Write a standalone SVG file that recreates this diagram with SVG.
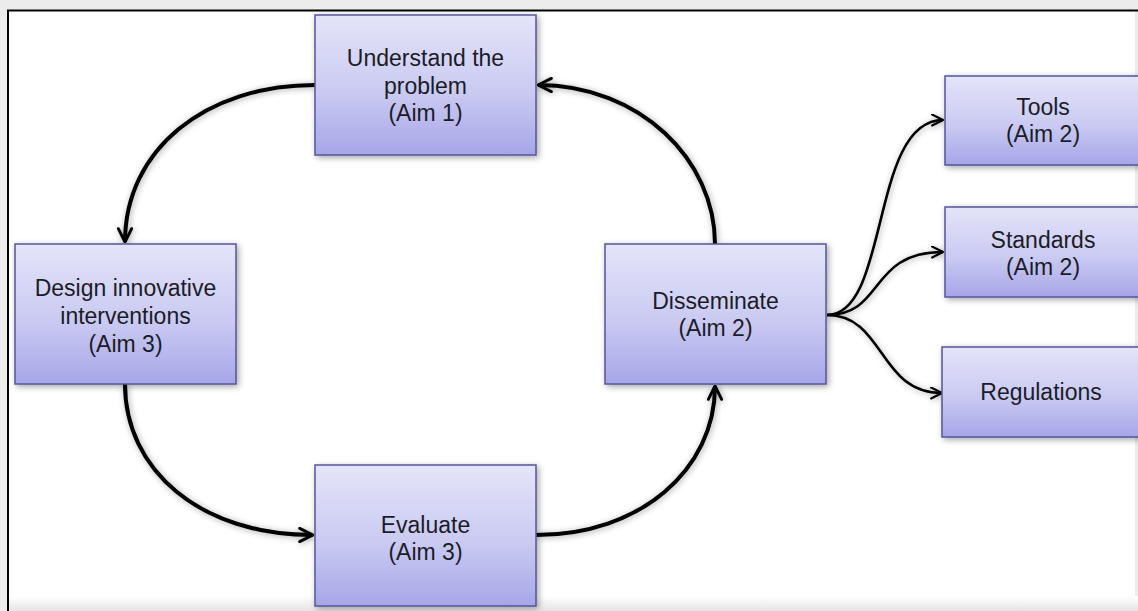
<svg xmlns="http://www.w3.org/2000/svg" width="1138" height="611" viewBox="0 0 1138 611">
<defs>
<linearGradient id="boxfill" x1="0" y1="0" x2="0" y2="1">
<stop offset="0" stop-color="#e4e4f9"/>
<stop offset="0.55" stop-color="#cacaf2"/>
<stop offset="1" stop-color="#a6a6e8"/>
</linearGradient>
<linearGradient id="bottomband" x1="0" y1="0" x2="0" y2="1">
<stop offset="0" stop-color="#ffffff"/>
<stop offset="1" stop-color="#e4e4e4"/>
</linearGradient>
<filter id="shadow" x="-20%" y="-20%" width="140%" height="140%">
<feDropShadow dx="2" dy="2" stdDeviation="3" flood-color="#000" flood-opacity="0.35"/>
</filter>
<filter id="lshadow" x="-20%" y="-20%" width="140%" height="140%">
<feDropShadow dx="1" dy="1" stdDeviation="3" flood-color="#000" flood-opacity="0.35"/>
</filter>
<marker id="arrow" viewBox="0 0 12 12" refX="11" refY="6" markerWidth="16" markerHeight="16" markerUnits="userSpaceOnUse" orient="auto">
<path d="M1,1 L11,6 L1,11" fill="none" stroke="#000" stroke-width="2.2" stroke-linecap="round" stroke-linejoin="round"/>
</marker>
<marker id="arrowsm" viewBox="0 0 12 12" refX="11" refY="6" markerWidth="13" markerHeight="13" markerUnits="userSpaceOnUse" orient="auto">
<path d="M1,1 L11,6 L1,11" fill="none" stroke="#000" stroke-width="2" stroke-linecap="round" stroke-linejoin="round"/>
</marker>
</defs>
<style>
.box{fill:url(#boxfill);stroke:#55559c;stroke-width:1.5;filter:url(#shadow);}
.lbl{font-family:"Liberation Sans",Arial,sans-serif;font-size:23px;fill:#1c1c28;text-anchor:middle;}
.main{fill:none;stroke:#000;stroke-width:4;marker-end:url(#arrow);}
.branch{fill:none;stroke:#000;stroke-width:2.6;marker-end:url(#arrowsm);}
</style>

<!-- frame -->
<rect x="0" y="0" width="1138" height="611" fill="#ffffff"/>
<rect x="0" y="0" width="1138" height="10" fill="#ececec"/>
<rect x="0" y="0" width="7" height="611" fill="#ececec"/>
<rect x="1135" y="10" width="3" height="601" fill="#ececec"/>
<rect x="7" y="596" width="1131" height="15" fill="url(#bottomband)"/>
<line x1="7" y1="10.5" x2="1138" y2="10.5" stroke="#000" stroke-width="2"/>
<line x1="8" y1="10" x2="8" y2="611" stroke="#000" stroke-width="2"/>

<g id="connectors" filter="url(#lshadow)">
<path class="main" d="M315,85 C205,85 125,150 125,242"/>
<path class="main" d="M125,384 C125,470 200,535 313,535"/>
<path class="main" d="M536,535 C640,535 715,470 715,386"/>
<path class="main" d="M715,244 C715,160 640,85 538,85"/>
<path class="branch" d="M827,315 C890,315 870,120 943,120"/>
<path class="branch" d="M827,315 C885,315 868,252 943,252"/>
<path class="branch" d="M827,315 C885,315 878,393 942,393"/>
</g>

<g id="understand">
<rect class="box" x="315" y="15" width="221" height="140"/>
<text class="lbl" x="425.5" y="66">Understand the</text>
<text class="lbl" x="425.5" y="94">problem</text>
<text class="lbl" x="425.5" y="121">(Aim 1)</text>
</g>

<g id="design">
<rect class="box" x="15" y="244" width="221" height="140"/>
<text class="lbl" x="125.5" y="296">Design innovative</text>
<text class="lbl" x="125.5" y="324">interventions</text>
<text class="lbl" x="125.5" y="352">(Aim 3)</text>
</g>

<g id="evaluate">
<rect class="box" x="315" y="465" width="221" height="141"/>
<text class="lbl" x="425.5" y="533">Evaluate</text>
<text class="lbl" x="425.5" y="560">(Aim 3)</text>
</g>

<g id="disseminate">
<rect class="box" x="605" y="244" width="221" height="140"/>
<text class="lbl" x="715.5" y="309">Disseminate</text>
<text class="lbl" x="715.5" y="336">(Aim 2)</text>
</g>

<g id="tools">
<rect class="box" x="945" y="76" width="198" height="89"/>
<text class="lbl" x="1043" y="115">Tools</text>
<text class="lbl" x="1043" y="142">(Aim 2)</text>
</g>

<g id="standards">
<rect class="box" x="945" y="207" width="198" height="90"/>
<text class="lbl" x="1043" y="248">Standards</text>
<text class="lbl" x="1043" y="275">(Aim 2)</text>
</g>

<g id="regulations">
<rect class="box" x="942" y="347" width="201" height="90"/>
<text class="lbl" x="1041" y="400">Regulations</text>
</g>
</svg>
